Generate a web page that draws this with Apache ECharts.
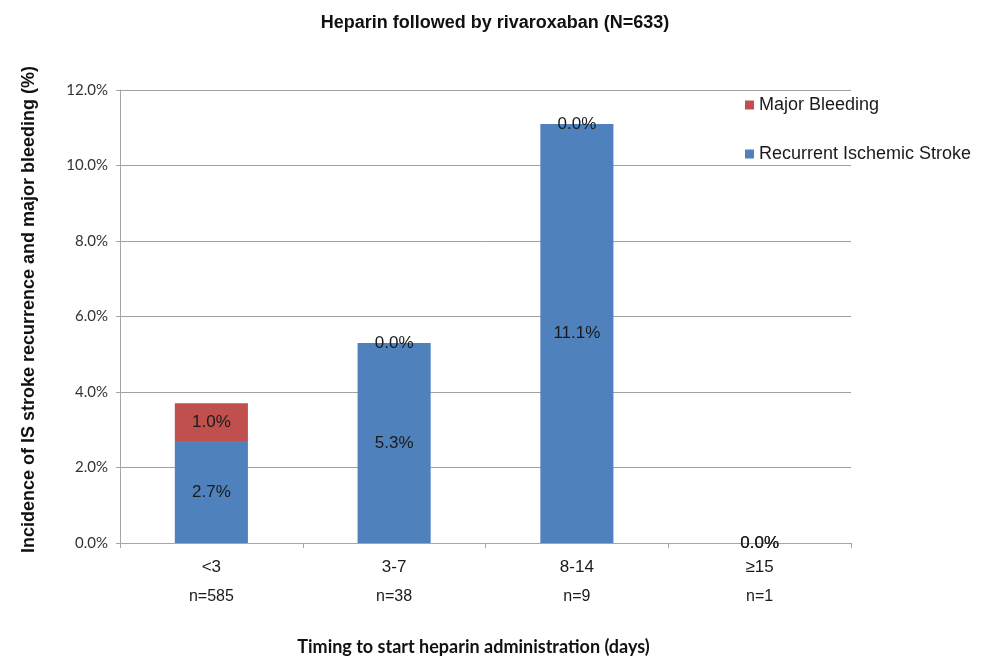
<!DOCTYPE html>
<html>
<head>
<meta charset="utf-8">
<script src="https://cdn.jsdelivr.net/npm/echarts@6/dist/echarts.min.js"></script>
<style>
  html, body { margin: 0; padding: 0; background: #fff; }
  #chart { width: 990px; height: 661px; }
</style>
</head>
<body>
<div id="chart"></div>
<script>
// Timing groups and their sizes
const categories = ['<3', '3-7', '8-14', '\u226515'];
const groupSizes = ['n=585', 'n=38', 'n=9', 'n=1'];

// Incidence (%) by timing group
const recurrentStroke = [2.7, 5.3, 11.1, 0.0];
const majorBleeding = [1.0, 0.0, 0.0, 0.0];

// Y axis ticks (%)
const yMin = 0, yMax = 12, yStep = 2;

const chart = echarts.init(document.getElementById('chart'), null, { renderer: 'canvas' });

const labelStyle = {
  show: true,
  position: 'inside',
  color: '#1a1a1a',
  fontFamily: 'Liberation Sans, Arial, sans-serif',
  fontSize: 17,
  formatter: p => p.value.toFixed(1) + '%'
};

chart.setOption({
  animation: false,
  backgroundColor: '#ffffff',
  title: {
    text: 'Heparin followed by rivaroxaban (N=633)',
    left: 'center',
    top: 9,
    textStyle: {
      fontFamily: 'Liberation Sans, Arial, sans-serif',
      fontWeight: 'bold',
      fontSize: 18,
      color: '#111'
    }
  },
  legend: {
    data: ['Major Bleeding', 'Recurrent Ischemic Stroke'],
    orient: 'vertical',
    left: 740,
    top: 91,
    itemWidth: 9,
    itemHeight: 9,
    itemGap: 31,
    icon: 'rect',
    textStyle: {
      fontFamily: 'Liberation Sans, Arial, sans-serif',
      fontSize: 18,
      color: '#1a1a1a'
    }
  },
  grid: { left: 120, right: 139, top: 90, bottom: 113, containLabel: false },
  xAxis: {
    type: 'category',
    data: categories,
    boundaryGap: true,
    name: 'Timing to start heparin administration (days)',
    nameLocation: 'middle',
    nameGap: 95,
    nameTextStyle: {
      fontFamily: 'Lato, Open Sans, sans-serif',
      fontWeight: 'bold',
      fontSize: 18,
      color: '#111',
      padding: [0, 24, 0, 0]
    },
    axisLine: { lineStyle: { color: '#a6a6a6', width: 1 } },
    axisTick: { show: true, length: 5, lineStyle: { color: '#a6a6a6' } },
    axisLabel: {
      margin: 10,
      formatter: (v, i) => '{a|' + v + '}\n{b|' + groupSizes[i] + '}',
      rich: {
        a: { fontFamily: 'Liberation Sans, Arial, sans-serif', fontSize: 17, lineHeight: 29, color: '#1a1a1a' },
        b: { fontFamily: 'Liberation Sans, Arial, sans-serif', fontSize: 16, lineHeight: 29, color: '#1a1a1a' }
      }
    }
  },
  yAxis: {
    type: 'value',
    min: yMin,
    max: yMax,
    interval: yStep,
    name: 'Incidence of IS stroke recurrence and major bleeding (%)',
    nameLocation: 'middle',
    nameGap: 82,
    nameRotate: 90,
    nameTextStyle: {
      fontFamily: 'Liberation Sans, Arial, sans-serif',
      fontWeight: 'bold',
      fontSize: 18,
      color: '#111',
      padding: [0, 0, 0, 14]
    },
    axisLine: { show: true, lineStyle: { color: '#a6a6a6', width: 1 } },
    axisTick: { show: true, length: 4, lineStyle: { color: '#a6a6a6' } },
    splitLine: { show: true, lineStyle: { color: '#a0a0a0', width: 1 } },
    axisLabel: {
      margin: 12,
      fontFamily: 'Lato, Open Sans, sans-serif',
      fontSize: 15,
      color: '#333',
      formatter: v => v.toFixed(1) + '%'
    }
  },
  series: [
    {
      name: 'Recurrent Ischemic Stroke',
      type: 'bar',
      stack: 'total',
      data: recurrentStroke,
      barWidth: '40%',
      itemStyle: { color: '#4f81bd' },
      label: labelStyle
    },
    {
      name: 'Major Bleeding',
      type: 'bar',
      stack: 'total',
      data: majorBleeding,
      barWidth: '40%',
      itemStyle: { color: '#c0504d' },
      label: labelStyle
    }
  ]
});
</script>
</body>
</html>
